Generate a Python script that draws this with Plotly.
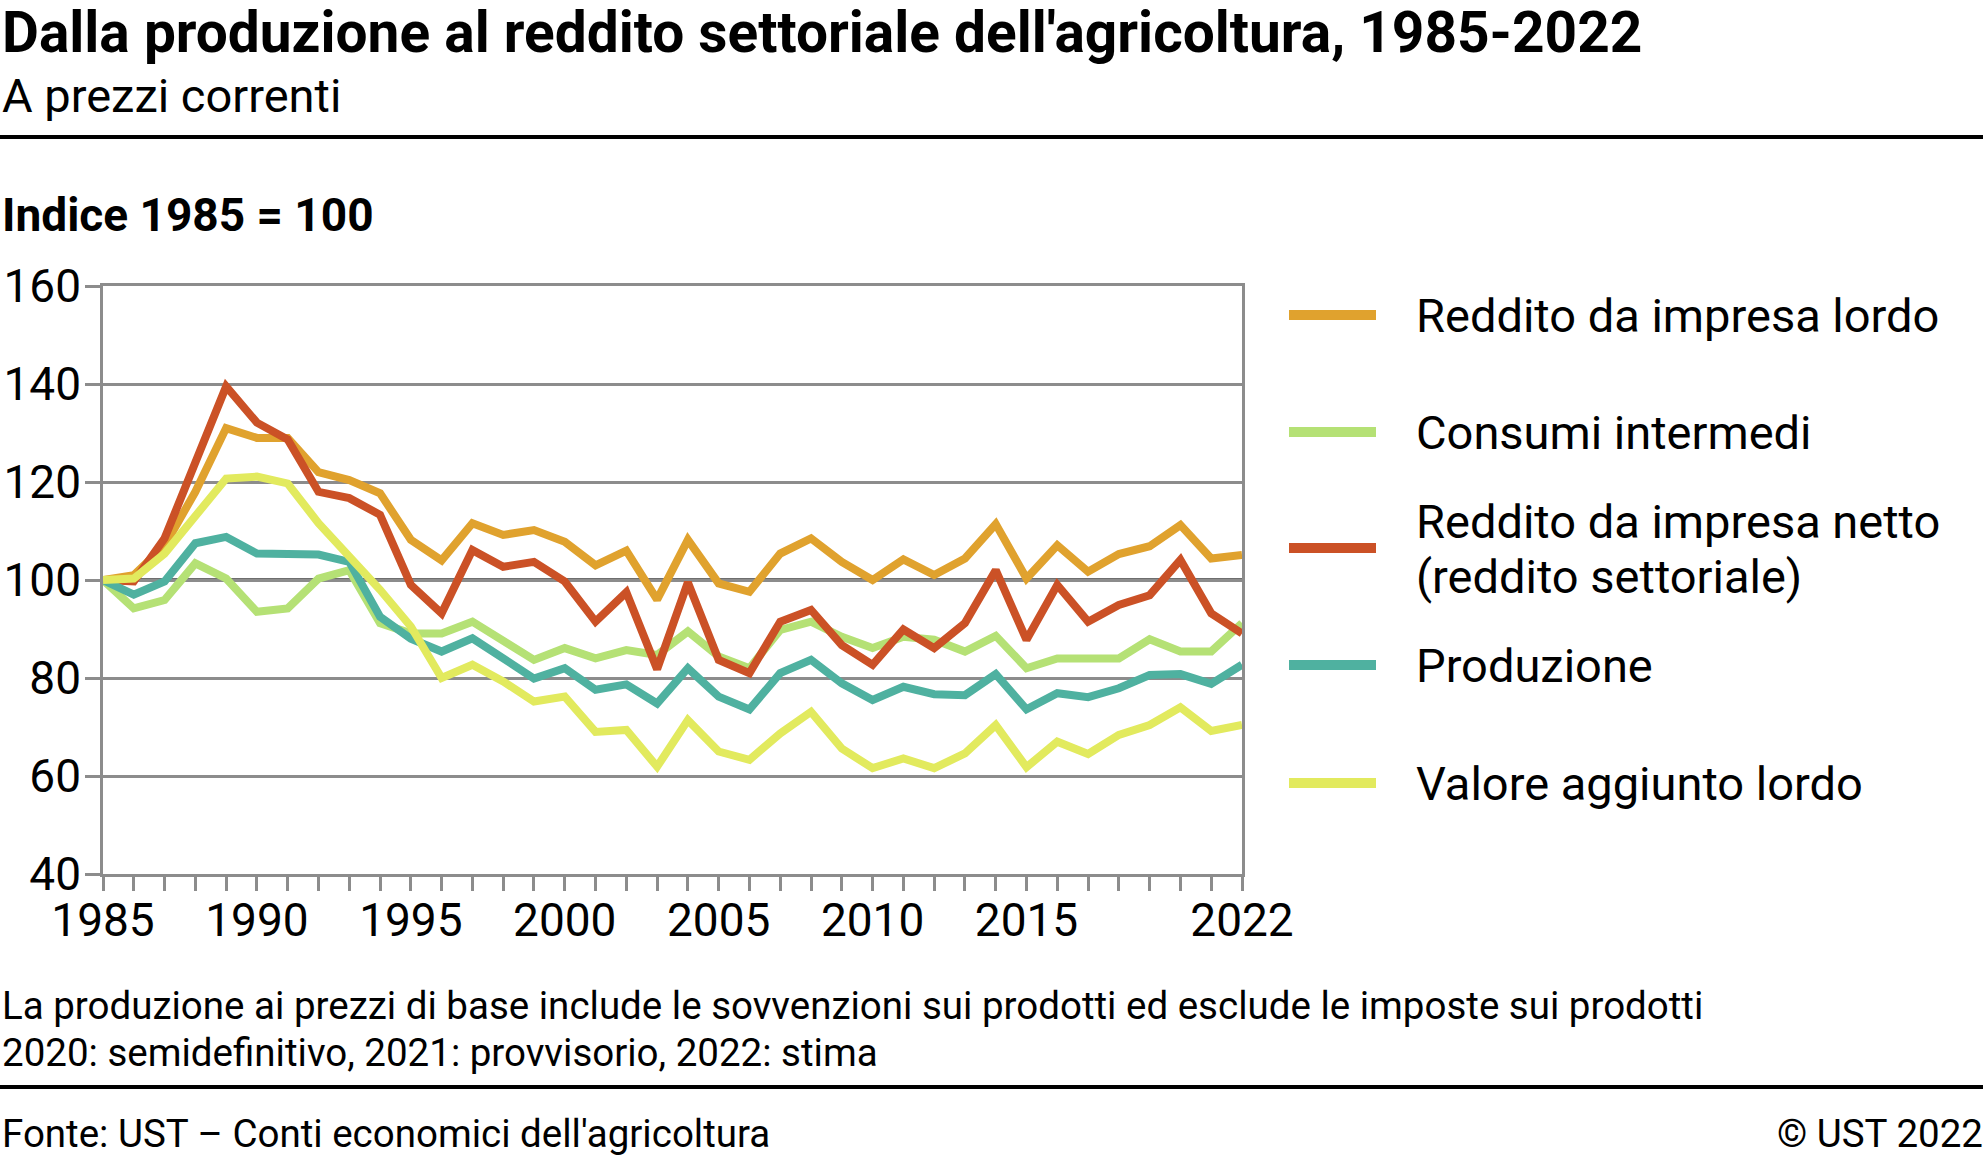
import plotly.graph_objects as go

# ---------------- data ----------------
years = list(range(1985, 2023))

series_names = [
    "Reddito da impresa lordo",
    "Consumi intermedi",
    "Reddito da impresa netto",
    "Produzione",
    "Valore aggiunto lordo",
]
legend_lines = [
    ["Reddito da impresa lordo"],
    ["Consumi intermedi"],
    ["Reddito da impresa netto", "(reddito settoriale)"],
    ["Produzione"],
    ["Valore aggiunto lordo"],
]

reddito_lordo = [100, 101, 107, 118, 131, 129, 129, 122, 120.4, 117.7,
                 108.2, 104, 111.6, 109.2, 110.2, 107.8, 103, 106, 96, 108.2,
                 99.3, 97.6, 105.4, 108.5, 103.7, 100, 104.2, 101, 104.4, 111.4,
                 100.3, 107.1, 101.7, 105.3, 106.9, 111.2, 104.4, 105.1]

consumi_intermedi = [100, 94.2, 95.9, 103.4, 100.3, 93.5, 94.2, 100.3, 102, 91.2,
                     89.1, 89.1, 91.5, 87.4, 83.7, 86.1, 84, 85.7, 84.7, 89.5,
                     84.4, 82, 89.8, 91.5, 88.4, 86.1, 88.4, 87.8, 85.4, 88.6,
                     82, 84, 84.2, 84, 87.9, 85.4, 85.4, 91.2]

reddito_netto = [100, 99.7, 108.5, 124, 139.5, 132.1, 128.7, 118, 116.7, 113.3,
                 99, 93.2, 106.1, 102.7, 103.7, 99.7, 91.5, 97.5, 81.8, 99.5,
                 83.7, 81, 91.5, 93.9, 86.7, 82.7, 89.9, 86.1, 91.2, 102,
                 87.8, 99, 91.5, 94.9, 96.9, 104.1, 93.2, 89.1]

produzione = [100, 97, 99.7, 107.5, 108.8, 105.4, 105.3, 105.2, 103.7, 92.5,
              88, 85.4, 88.1, 84, 79.9, 82, 77.6, 78.7, 74.8, 82,
              76.2, 73.6, 81, 83.7, 78.9, 75.5, 78.2, 76.7, 76.5, 80.8,
              73.6, 76.9, 76.1, 77.9, 80.6, 80.8, 78.8, 82.7]

valore_aggiunto = [100, 100.3, 105.4, 113, 120.7, 121.1, 119.7, 111.6, 104.8, 98,
                   90.5, 80, 82.7, 79.3, 75.2, 76.2, 69, 69.4, 61.9, 71.4,
                   65, 63.3, 68.7, 73.1, 65.6, 61.6, 63.6, 61.6, 64.6, 70.4,
                   61.8, 67, 64.5, 68.4, 70.4, 74, 69.2, 70.4]

series_values = [reddito_lordo, consumi_intermedi, reddito_netto, produzione, valore_aggiunto]
colors = ["#E0A22E", "#B5E175", "#CB5126", "#4FB1A0", "#E2EA5E"]

x_label_years = [1985, 1990, 1995, 2000, 2005, 2010, 2015, 2022]
y_ticks = [40, 60, 80, 100, 120, 140, 160]

title = "Dalla produzione al reddito settoriale dell'agricoltura, 1985-2022"
subtitle = "A prezzi correnti"
unit_label = "Indice 1985 = 100"
note1 = "La produzione ai prezzi di base include le sovvenzioni sui prodotti ed esclude le imposte sui prodotti"
note2 = "2020: semidefinitivo, 2021: provvisorio, 2022: stima"
source = "Fonte: UST – Conti economici dell'agricoltura"
copyright_txt = "© UST 2022"

# ---------------- layout geometry (pixels) ----------------
W, H = 1983, 1161
L, R, T, B = 103, 1242, 286, 874
PW, PH = R - L, B - T

def px(x):
    return (x - L) / PW

def py(y):
    return (B - y) / PH

FONT = "Roboto"
GRID = "#8C8C8C"
TICK_SIZE = 46

fig = go.Figure()
for name, vals, col in zip(series_names, series_values, colors):
    fig.add_trace(go.Scatter(x=years, y=vals, mode="lines", name=name,
                             line=dict(color=col, width=8), showlegend=False,
                             hoverinfo="x+y+name"))

ticktext = [str(y) if y in x_label_years else "" for y in years]

fig.update_layout(
    width=W, height=H,
    margin=dict(l=L, r=W - R, t=T, b=H - B, autoexpand=False),
    paper_bgcolor="white", plot_bgcolor="white",
    font=dict(family=FONT, color="black", size=TICK_SIZE),
    xaxis=dict(range=[1985, 2022], tickmode="array", tickvals=years, ticktext=ticktext,
               ticks="outside", ticklen=14, tickwidth=2.5, tickcolor=GRID,
               showline=True, linecolor=GRID, linewidth=2.5, mirror=True,
               showgrid=False, zeroline=False, automargin=False,
               ticklabelstandoff=-10,
               tickfont=dict(size=TICK_SIZE, family=FONT, color="black")),
    yaxis=dict(range=[40, 160], tickmode="array", tickvals=y_ticks,
               ticks="outside", ticklen=15, tickwidth=2.5, tickcolor=GRID,
               showline=True, linecolor=GRID, linewidth=2.5, mirror=True,
               showgrid=True, gridcolor=GRID, gridwidth=2.5, zeroline=False,
               automargin=False, ticklabelstandoff=-5,
               tickfont=dict(size=TICK_SIZE, family=FONT, color="black")),
)

shapes = []
# emphasised 100 line
shapes.append(dict(type="line", xref="paper", yref="y", x0=0, x1=1, y0=100, y1=100,
                   line=dict(color="#6E6E6E", width=4), layer="below"))
# horizontal rules
for yy in (137, 1087):
    shapes.append(dict(type="line", xref="paper", yref="paper", x0=px(0), x1=px(W),
                       y0=py(yy), y1=py(yy), line=dict(color="black", width=4)))

annotations = []
def text(x, y, s, size, bold=False, anchor="left"):
    annotations.append(dict(xref="paper", yref="paper", x=px(x), y=py(y),
                            text=("<b>%s</b>" % s) if bold else s,
                            showarrow=False, xanchor=anchor, yanchor="middle",
                            font=dict(family=FONT, size=size, color="black")))

text(0, 33, title, 56.8, bold=True)
text(0, 96, subtitle, 47)
text(0, 215, unit_label, 46, bold=True)
text(0, 1005, note1, 38.5)
text(0, 1052, note2, 38.5)
text(0, 1133, source, 38.5)
text(W + 2, 1133, copyright_txt, 38.5, anchor="right")

# custom legend
legend_y = [315, 432, 548, 665, 783]
for lines, col, yc in zip(legend_lines, colors, legend_y):
    shapes.append(dict(type="line", xref="paper", yref="paper",
                       x0=px(1289), x1=px(1376), y0=py(yc), y1=py(yc),
                       line=dict(color=col, width=10)))
    if len(lines) == 1:
        text(1414, yc, lines[0], 47)
    else:
        text(1414, yc - 27, lines[0], 47)
        text(1414, yc + 28, lines[1], 47)

fig.update_layout(shapes=shapes, annotations=annotations)
fig.write_html("out.html", config={"displayModeBar": False},
               post_script="document.body.style.margin='0';")
